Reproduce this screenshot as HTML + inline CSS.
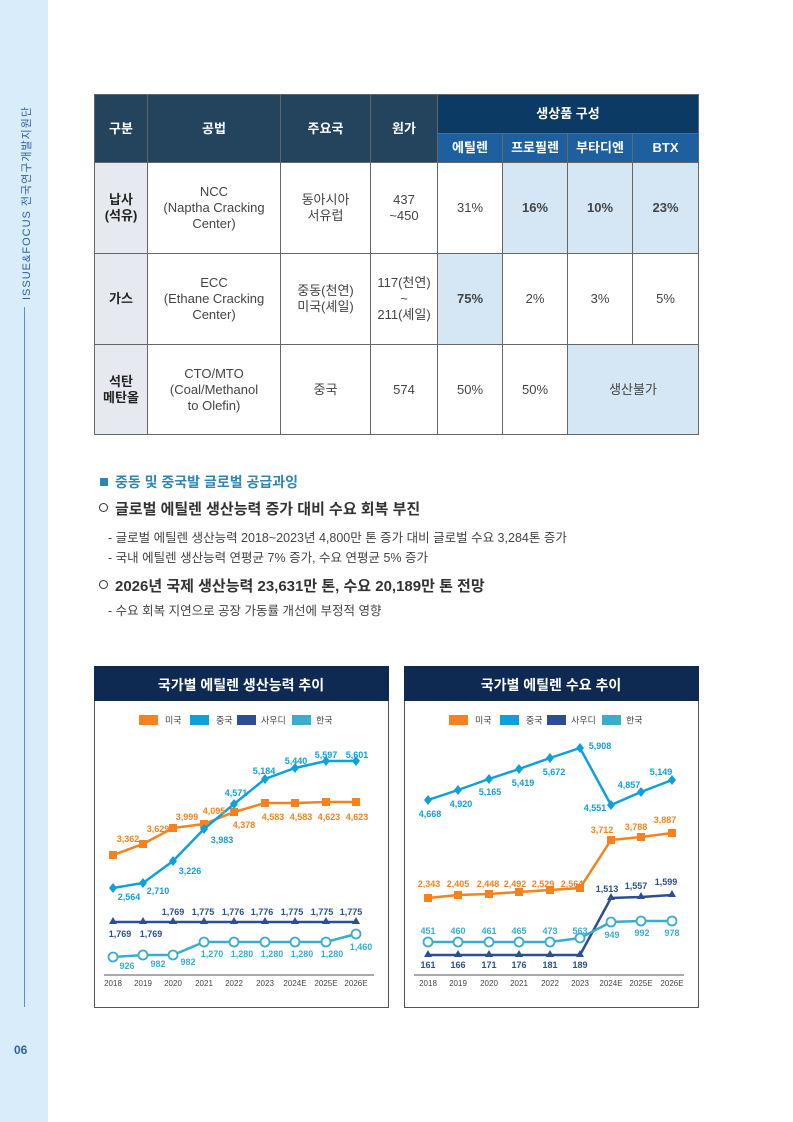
<!DOCTYPE html>
<html><head><meta charset="utf-8"><style>
*{margin:0;padding:0;box-sizing:border-box}
body{width:793px;height:1122px;background:#fff;position:relative;overflow:hidden;font-family:"Liberation Sans","Noto Sans CJK KR",sans-serif;color:#333}
.side{position:absolute;left:0;top:0;width:48px;height:1122px;background:#d8ecf9}
.vt{position:absolute;left:25px;top:95px;transform-origin:0 0;transform:translate(-7px,205px) rotate(-90deg);font-size:11px;color:#2f5ea8;white-space:nowrap;letter-spacing:1px}
.vl{position:absolute;left:24px;top:307px;width:1px;height:700px;background:#5a8fcf}
.pg{position:absolute;left:14px;top:1043px;font-size:12px;font-weight:bold;color:#2f5ea8}
table{position:absolute;left:94px;top:94px;border-collapse:collapse;font-size:13px;color:#444;text-align:center}
td,th{border:1px solid #666;line-height:16px}
th{background:#24445e;color:#fff;font-weight:bold}
th.g{background:#0b3a64}
th.s{background:#1d5f9f}
td.l{background:#e6e9ef;font-weight:bold;color:#222}
td.b{background:#d5e7f5}
.bd{font-weight:bold}
.t{position:absolute;white-space:nowrap}
</style></head><body>
<div class="side"></div>
<div class="vt">ISSUE&amp;FOCUS 전국연구개발지원단</div>
<div class="vl"></div>
<div class="pg">06</div>
<table>
<colgroup><col style="width:53px"><col style="width:133px"><col style="width:90px"><col style="width:67px"><col style="width:65px"><col style="width:65px"><col style="width:65px"><col style="width:66px"></colgroup>
<tr style="height:39px"><th rowspan="2">구분</th><th rowspan="2">공법</th><th rowspan="2">주요국</th><th rowspan="2">원가</th><th class="g" colspan="4">생상품 구성</th></tr>
<tr style="height:29px"><th class="s">에틸렌</th><th class="s">프로필렌</th><th class="s">부타디엔</th><th class="s">BTX</th></tr>
<tr style="height:91px"><td class="l">납사<br>(석유)</td><td>NCC<br>(Naptha Cracking<br>Center)</td><td>동아시아<br>서유럽</td><td>437<br>~450</td><td>31%</td><td class="b bd">16%</td><td class="b bd">10%</td><td class="b bd">23%</td></tr>
<tr style="height:91px"><td class="l">가스</td><td>ECC<br>(Ethane Cracking<br>Center)</td><td>중동(천연)<br>미국(셰일)</td><td>117(천연)<br>~<br>211(셰일)</td><td class="b bd">75%</td><td>2%</td><td>3%</td><td>5%</td></tr>
<tr style="height:90px"><td class="l">석탄<br>메탄올</td><td>CTO/MTO<br>(Coal/Methanol<br>to Olefin)</td><td>중국</td><td>574</td><td>50%</td><td>50%</td><td class="b" colspan="2">생산불가</td></tr>
</table>
<div class="t" style="left:100px;top:478px;width:8px;height:8px;background:#2e86b5"></div>
<div class="t" style="left:115px;top:472px;font-size:14px;font-weight:bold;color:#2e86b5">중동 및 중국발 글로벌 공급과잉</div>
<div class="t" style="left:99px;top:503px;width:9px;height:9px;border:1.5px solid #333;border-radius:50%"></div>
<div class="t" style="left:115px;top:498px;font-size:15px;font-weight:bold;color:#333">글로벌 에틸렌 생산능력 증가 대비 수요 회복 부진</div>
<div class="t" style="left:108px;top:527px;font-size:12.5px;color:#444">- 글로벌 에틸렌 생산능력 2018~2023년 4,800만 톤 증가 대비 글로벌 수요 3,284톤 증가</div>
<div class="t" style="left:108px;top:547px;font-size:12.5px;color:#444">- 국내 에틸렌 생산능력 연평균 7% 증가, 수요 연평균 5% 증가</div>
<div class="t" style="left:99px;top:580px;width:9px;height:9px;border:1.5px solid #333;border-radius:50%"></div>
<div class="t" style="left:115px;top:575px;font-size:15px;font-weight:bold;color:#333">2026년 국제 생산능력 23,631만 톤, 수요 20,189만 톤 전망</div>
<div class="t" style="left:108px;top:600px;font-size:12.5px;color:#444">- 수요 회복 지연으로 공장 가동률 개선에 부정적 영향</div>

<svg width="793" height="1122" style="position:absolute;left:0;top:0" font-family="Liberation Sans, Noto Sans CJK KR, sans-serif">
<defs>
<g id="lg" font-size="9" fill="#444">
<rect x="0" y="-5" width="19" height="10" fill="#f5821f"/><text x="26" y="3.5">미국</text>
<rect x="51" y="-5" width="19" height="10" fill="#0ea0dd"/><text x="77" y="3.5">중국</text>
<rect x="98" y="-5" width="19" height="10" fill="#2c4f93"/><text x="122" y="3.5">사우디</text>
<rect x="153" y="-5" width="19" height="10" fill="#3aaccc"/><text x="177" y="3.5">한국</text>
</g>
</defs>
<!-- left chart -->
<rect x="94.5" y="666.5" width="294" height="341" fill="#fff" stroke="#555"/>
<rect x="94" y="666" width="295" height="35" fill="#0f2a52"/>
<text x="241" y="690" text-anchor="middle" fill="#fff" font-size="14" font-weight="bold">국가별 에틸렌 생산능력 추이</text>
<use href="#lg" x="139" y="720"/>
<line x1="104" y1="975" x2="374" y2="975" stroke="#555"/>
<g font-size="8" fill="#444" text-anchor="middle">
<text x="113" y="986">2018</text><text x="143" y="986">2019</text><text x="173" y="986">2020</text><text x="204" y="986">2021</text><text x="234" y="986">2022</text><text x="265" y="986">2023</text><text x="295" y="986">2024E</text><text x="326" y="986">2025E</text><text x="356" y="986">2026E</text>
</g>
<polyline points="113,855 143,844 173,828 204,824 234,812 265,803 295,803 326,802 356,802" fill="none" stroke="#f5821f" stroke-width="2.5"/>
<g fill="#f5821f"><rect x="109" y="851" width="8" height="8"/><rect x="139" y="840" width="8" height="8"/><rect x="169" y="824" width="8" height="8"/><rect x="200" y="820" width="8" height="8"/><rect x="230" y="808" width="8" height="8"/><rect x="261" y="799" width="8" height="8"/><rect x="291" y="799" width="8" height="8"/><rect x="322" y="798" width="8" height="8"/><rect x="352" y="798" width="8" height="8"/></g>
<polyline points="113,888 143,883 173,861 204,829 234,804 265,779 295,768 326,761 356,761" fill="none" stroke="#0ea0dd" stroke-width="2.5"/>
<g fill="#0ea0dd"><path d="M113,883l4,5l-4,5l-4,-5z"/><path d="M143,878l4,5l-4,5l-4,-5z"/><path d="M173,856l4,5l-4,5l-4,-5z"/><path d="M204,824l4,5l-4,5l-4,-5z"/><path d="M234,799l4,5l-4,5l-4,-5z"/><path d="M265,774l4,5l-4,5l-4,-5z"/><path d="M295,763l4,5l-4,5l-4,-5z"/><path d="M326,756l4,5l-4,5l-4,-5z"/><path d="M356,756l4,5l-4,5l-4,-5z"/></g>
<polyline points="113,922 356,922" fill="none" stroke="#2c4f93" stroke-width="2.5"/>
<g fill="#2c4f93"><path d="M113,917l4,7h-8z"/><path d="M143,917l4,7h-8z"/><path d="M173,917l4,7h-8z"/><path d="M204,917l4,7h-8z"/><path d="M234,917l4,7h-8z"/><path d="M265,917l4,7h-8z"/><path d="M295,917l4,7h-8z"/><path d="M326,917l4,7h-8z"/><path d="M356,917l4,7h-8z"/></g>
<polyline points="113,957 143,955 173,955 204,942 234,942 265,942 295,942 326,942 356,934" fill="none" stroke="#3aaccc" stroke-width="2.5"/>
<g fill="#fff" stroke="#3aaccc" stroke-width="1.8"><circle cx="113" cy="957" r="4.5"/><circle cx="143" cy="955" r="4.5"/><circle cx="173" cy="955" r="4.5"/><circle cx="204" cy="942" r="4.5"/><circle cx="234" cy="942" r="4.5"/><circle cx="265" cy="942" r="4.5"/><circle cx="295" cy="942" r="4.5"/><circle cx="326" cy="942" r="4.5"/><circle cx="356" cy="934" r="4.5"/></g>
<g font-size="9" font-weight="bold" text-anchor="middle">
<g fill="#f5821f"><text x="128" y="842">3,362</text><text x="158" y="832">3,629</text><text x="187" y="820">3,999</text><text x="214" y="814">4,095</text><text x="244" y="828">4,378</text><text x="273" y="820">4,583</text><text x="301" y="820">4,583</text><text x="329" y="820">4,623</text><text x="357" y="820">4,623</text></g>
<g fill="#0ea0dd"><text x="129" y="900">2,564</text><text x="158" y="894">2,710</text><text x="190" y="874">3,226</text><text x="222" y="843">3,983</text><text x="236" y="796">4,571</text><text x="264" y="774">5,184</text><text x="296" y="764">5,440</text><text x="326" y="758">5,597</text><text x="357" y="758">5,601</text></g>
<g fill="#2c4f93"><text x="173" y="915">1,769</text><text x="203" y="915">1,775</text><text x="233" y="915">1,776</text><text x="262" y="915">1,776</text><text x="292" y="915">1,775</text><text x="322" y="915">1,775</text><text x="351" y="915">1,775</text><text x="120" y="937">1,769</text><text x="151" y="937">1,769</text></g>
<g fill="#3aaccc"><text x="127" y="969">926</text><text x="158" y="967">982</text><text x="188" y="965">982</text><text x="212" y="957">1,270</text><text x="242" y="957">1,280</text><text x="272" y="957">1,280</text><text x="302" y="957">1,280</text><text x="332" y="957">1,280</text><text x="361" y="950">1,460</text></g>
</g>
<!-- right chart -->
<rect x="404.5" y="666.5" width="294" height="341" fill="#fff" stroke="#555"/>
<rect x="404" y="666" width="295" height="35" fill="#0f2a52"/>
<text x="551" y="690" text-anchor="middle" fill="#fff" font-size="14" font-weight="bold">국가별 에틸렌 수요 추이</text>
<use href="#lg" x="449" y="720"/>
<line x1="414" y1="975" x2="684" y2="975" stroke="#555"/>
<g font-size="8" fill="#444" text-anchor="middle">
<text x="428" y="986">2018</text><text x="458" y="986">2019</text><text x="489" y="986">2020</text><text x="519" y="986">2021</text><text x="550" y="986">2022</text><text x="580" y="986">2023</text><text x="611" y="986">2024E</text><text x="641" y="986">2025E</text><text x="672" y="986">2026E</text>
</g>
<polyline points="428,800 458,790 489,779 519,769 550,758 580,748 611,805 641,792 672,780" fill="none" stroke="#0ea0dd" stroke-width="2.5"/>
<g fill="#0ea0dd"><path d="M428,795l4,5l-4,5l-4,-5z"/><path d="M458,785l4,5l-4,5l-4,-5z"/><path d="M489,774l4,5l-4,5l-4,-5z"/><path d="M519,764l4,5l-4,5l-4,-5z"/><path d="M550,753l4,5l-4,5l-4,-5z"/><path d="M580,743l4,5l-4,5l-4,-5z"/><path d="M611,800l4,5l-4,5l-4,-5z"/><path d="M641,787l4,5l-4,5l-4,-5z"/><path d="M672,775l4,5l-4,5l-4,-5z"/></g>
<polyline points="428,898 458,895 489,894 519,892 550,890 580,888 611,840 641,837 672,833" fill="none" stroke="#f5821f" stroke-width="2.5"/>
<g fill="#f5821f"><rect x="424" y="894" width="8" height="8"/><rect x="454" y="891" width="8" height="8"/><rect x="485" y="890" width="8" height="8"/><rect x="515" y="888" width="8" height="8"/><rect x="546" y="886" width="8" height="8"/><rect x="576" y="884" width="8" height="8"/><rect x="607" y="836" width="8" height="8"/><rect x="637" y="833" width="8" height="8"/><rect x="668" y="829" width="8" height="8"/></g>
<polyline points="428,955 580,955 611,898 641,897 672,895" fill="none" stroke="#2c4f93" stroke-width="2.5"/>
<g fill="#2c4f93"><path d="M428,950l4,7h-8z"/><path d="M458,950l4,7h-8z"/><path d="M489,950l4,7h-8z"/><path d="M519,950l4,7h-8z"/><path d="M550,950l4,7h-8z"/><path d="M580,950l4,7h-8z"/><path d="M611,893l4,7h-8z"/><path d="M641,892l4,7h-8z"/><path d="M672,890l4,7h-8z"/></g>
<polyline points="428,942 550,942 580,938 611,922 641,921 672,921" fill="none" stroke="#3aaccc" stroke-width="2.5"/>
<g fill="#fff" stroke="#3aaccc" stroke-width="1.8"><circle cx="428" cy="942" r="4.5"/><circle cx="458" cy="942" r="4.5"/><circle cx="489" cy="942" r="4.5"/><circle cx="519" cy="942" r="4.5"/><circle cx="550" cy="942" r="4.5"/><circle cx="580" cy="938" r="4.5"/><circle cx="611" cy="922" r="4.5"/><circle cx="641" cy="921" r="4.5"/><circle cx="672" cy="921" r="4.5"/></g>
<g font-size="9" font-weight="bold" text-anchor="middle">
<g fill="#0ea0dd"><text x="430" y="817">4,668</text><text x="461" y="807">4,920</text><text x="490" y="795">5,165</text><text x="523" y="786">5,419</text><text x="554" y="775">5,672</text><text x="600" y="749">5,908</text><text x="595" y="811">4,551</text><text x="629" y="788">4,857</text><text x="661" y="775">5,149</text></g>
<g fill="#f5821f"><text x="429" y="887">2,343</text><text x="458" y="887">2,405</text><text x="488" y="887">2,448</text><text x="515" y="887">2,492</text><text x="543" y="887">2,529</text><text x="572" y="887">2,564</text><text x="602" y="833">3,712</text><text x="636" y="830">3,788</text><text x="665" y="823">3,887</text></g>
<g fill="#2c4f93"><text x="428" y="968">161</text><text x="458" y="968">166</text><text x="489" y="968">171</text><text x="519" y="968">176</text><text x="550" y="968">181</text><text x="580" y="968">189</text><text x="607" y="892">1,513</text><text x="636" y="889">1,557</text><text x="666" y="885">1,599</text></g>
<g fill="#3aaccc"><text x="428" y="934">451</text><text x="458" y="934">460</text><text x="489" y="934">461</text><text x="519" y="934">465</text><text x="550" y="934">473</text><text x="580" y="934">563</text><text x="612" y="938">949</text><text x="642" y="936">992</text><text x="672" y="936">978</text></g>
</g>
</svg>
</body></html>
